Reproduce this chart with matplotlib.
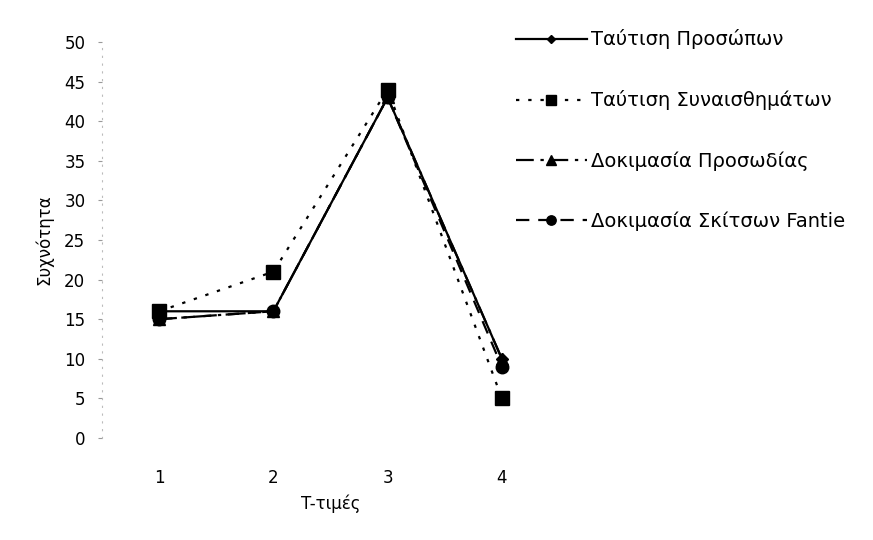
import matplotlib.pyplot as plt
import numpy as np

plt.rcParams['font.family'] = ['DejaVu Sans']

t_values = [1, 2, 3, 4]
prosopa = [16, 16, 43, 10]
synaisthimata = [16, 21, 44, 5]
prosodia = [15, 16, 43, 10]
fantie = [15, 16, 43, 9]

labels = ['Ταύτιση Προσώπων', 'Ταύτιση Συναισθημάτων',
          'Δοκιμασία Προσωδίας', 'Δοκιμασία Σκίτσων Fantie']

fig = plt.figure(figsize=(8.73, 5.4), dpi=100)
ax = fig.add_axes([102 / 873, 1 - 438 / 540, (559 - 102) / 873, (438 - 42) / 540])

l4, = ax.plot(t_values, fantie, color='black', linestyle=(0, (6, 4)), linewidth=1.6,
              marker='o', markersize=9)
l3, = ax.plot(t_values, prosodia, color='black', linestyle=(0, (8, 3, 1.5, 3)), linewidth=1.6,
              marker='^', markersize=9)
l2, = ax.plot(t_values, synaisthimata, color='black', linestyle=(0, (1.5, 4)), linewidth=1.6,
              marker='s', markersize=9.5)
l1, = ax.plot(t_values, prosopa, color='black', linestyle='-', linewidth=1.6,
              marker='D', markersize=6)

ax.set_xlim(0.5, 4.5)
ax.set_ylim(0, 50)
ax.set_xticks(t_values)
ax.set_yticks(np.arange(0, 51, 5))
for s in ['top', 'right', 'bottom']:
    ax.spines[s].set_visible(False)
ax.spines['left'].set_color('#bbbbbb')
ax.spines['left'].set_linestyle((0, (1, 6)))
ax.spines['left'].set_linewidth(0.8)
ax.tick_params(axis='x', length=0, labelsize=12, pad=22)
ax.tick_params(axis='y', length=3, color='#999999', labelsize=12, pad=9)
ax.set_xlabel('T-τιμές', fontsize=12, labelpad=6)
ax.set_ylabel('Συχνότητα', fontsize=12, labelpad=8)

fig.legend([l1, l2, l3, l4], labels, loc='upper left', bbox_to_anchor=(498 / 873, 1 - 12 / 540),
           frameon=False, fontsize=14, labelspacing=2.1, handlelength=3.7,
           handletextpad=0.2, markerscale=0.75)

fig.savefig('out.png', dpi=100)
